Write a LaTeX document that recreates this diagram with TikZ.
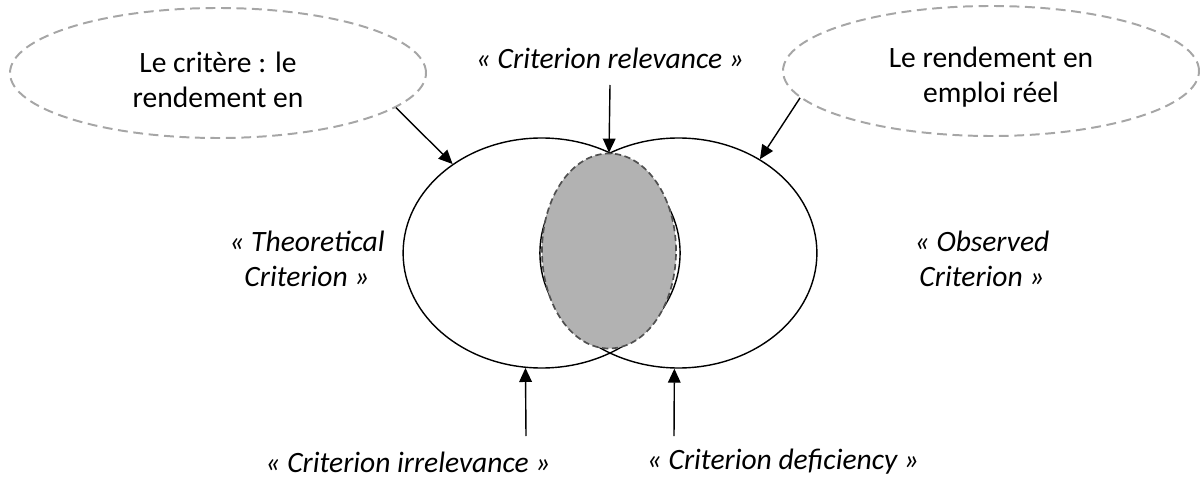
\documentclass[tikz,border=0pt]{standalone}
\usepackage{fontspec}
\setmainfont{Carlito}
\usetikzlibrary{arrows.meta,shapes.geometric}
\definecolor{bubblegray}{HTML}{A6A6A6}
\definecolor{lensfill}{HTML}{B2B2B2}
\definecolor{lensline}{HTML}{505050}
\newcommand{\pxu}{*0.025cm}
\newcommand{\figfont}{\fontsize{21}{24.5}\selectfont}

\tikzset{
  bubble/.style={ellipse, draw=bubblegray, line width=1.4pt, dash pattern=on 7pt off 4pt,
    minimum width=416\pxu, minimum height=130\pxu, inner sep=0pt},
  bubbletext/.style={font=\figfont, align=center, inner sep=1pt},
  vennset/.style={ellipse, draw, line width=1pt, minimum width=277\pxu, minimum height=230\pxu, inner sep=0pt},
  lens/.style={ellipse, fill=lensfill, draw=lensline, line width=1.2pt, dash pattern=on 4.5pt off 2.5pt,
    minimum width=134\pxu, minimum height=195\pxu, inner sep=0pt},
  crittext/.style={font=\figfont\itshape, align=center, inner sep=1pt},
}

\begin{document}
\begin{tikzpicture}[x=0.025cm, y=-0.025cm, >={Triangle[length=10pt,width=9pt]}, line width=1pt]
    \useasboundingbox (0,0) rectangle (1200,478);

    % the two sets and their overlap
    \node[vennset] (theo) at (541.6,253) {};
    \node[vennset] (obs) at (678.4,253) {};
    \node[lens] (rel) at (609,251) {};

    % dashed bubbles
    \node[bubble] (crit) at (218,73) {};
    \node[bubble] (real) at (991,71) {};
    \node[bubbletext] (critlab) at (218,80) {Le critère : le\\rendement en};
    \node[bubbletext] (reallab) at (991,77) {Le rendement en\\emploi réel};

    % labels
    \node[crittext] (relev) at (610,58) {« Criterion relevance »};
    \node[crittext] (theolab) at (307,259) {« Theoretical\\Criterion »};
    \node[crittext] (obslab) at (982,259) {« Observed\\Criterion »};
    \node[crittext] (irr) at (408,462) {« Criterion irrelevance »};
    \node[crittext] (defi) at (783,462) {« Criterion deficiency »};

    \coordinate (irrtail) at (526,436);
    \coordinate (defitail) at (674,436);

    \draw[->] (crit.-11) -- (theo.135);
    \draw[->] (real.188) -- (obs.49);
    \draw[->] (610,85) coordinate (reltail) -- (rel.north);
    \draw[->] (irrtail) -- (theo.262);
    \draw[->] (defitail) -- (obs.268);
\end{tikzpicture}
\end{document}
